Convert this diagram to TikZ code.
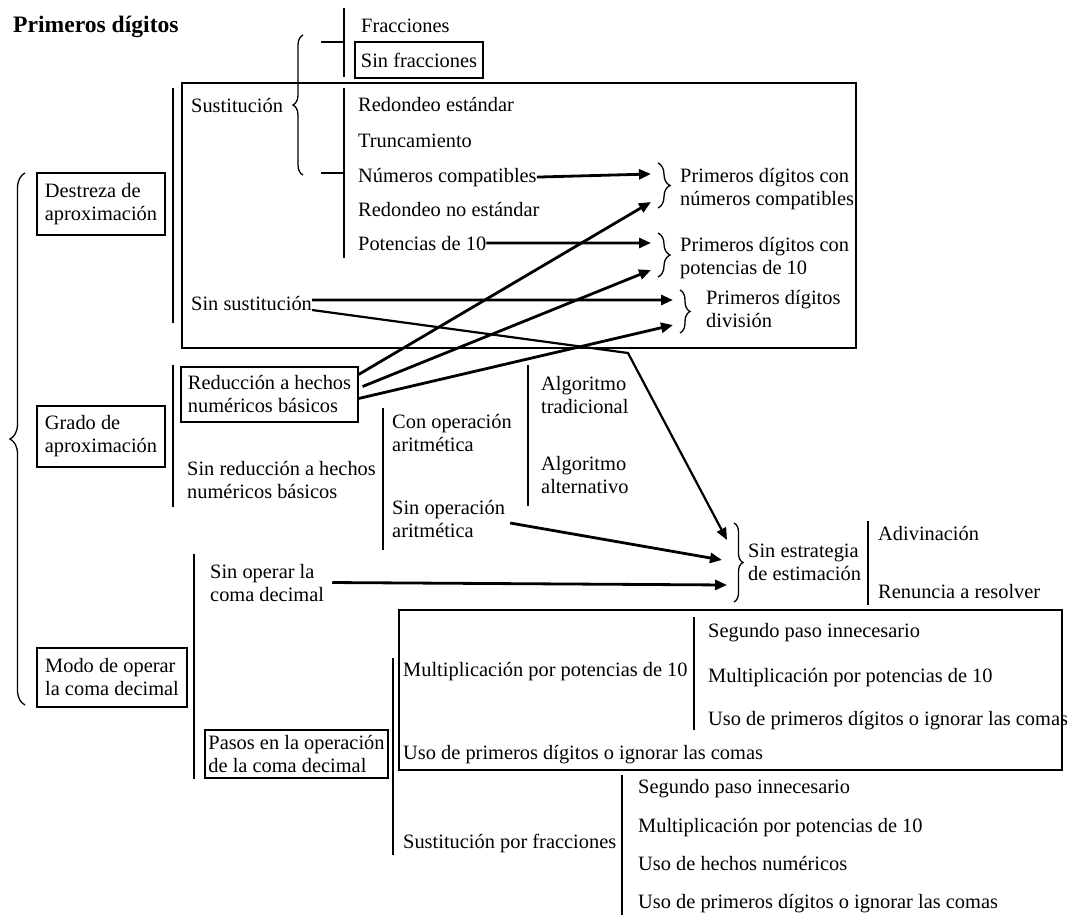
\documentclass[tikz,border=0pt]{standalone}
\usepackage{fontspec}
\setmainfont{Liberation Serif}
\usetikzlibrary{arrows.meta,decorations.pathreplacing}

\begin{document}
\begin{tikzpicture}[
  x=1pt, y=-1pt,
  every node/.style={font=\fontsize{20.4}{23}\selectfont, inner sep=0pt},
  item/.style={anchor=base west, align=left},
  box/.style={draw, line width=1.2pt, align=left},
  frame/.style={line width=1.2pt},
  vline/.style={line width=2.4pt},
  curly/.style={decorate, decoration={brace, amplitude=#1}, line width=1.3pt},
  arrow/.style={-{Triangle[length=12pt, width=10pt]}, line width=2.8pt}
]
\useasboundingbox (0,0) rectangle (1070,915);

\node[anchor=base west, font=\fontsize{23.6}{28}\selectfont\bfseries] (titulo) at (13,33) {Primeros dígitos};

% marcos grandes
\draw[frame] (182,83) rectangle (856,348);
\draw[frame] (399,610) rectangle (1062,770);

% cajas
\node[box, minimum width=128pt, minimum height=36pt] (sinfrac) at (419,60) {Sin fracciones};
\node[box, minimum width=128pt, minimum height=62pt] (destreza) at (101,204) {Destreza de\\aproximación};
\node[box, minimum width=128pt, minimum height=61pt] (grado) at (101,436.5) {Grado de\\aproximación};
\node[box, minimum width=150pt, minimum height=59pt] (modo) at (112,677.5) {Modo de operar\\la coma decimal};
\node[box, minimum width=177pt, minimum height=55pt] (reduccion) at (269.5,394.5) {Reducción a hechos\\numéricos básicos};
\node[box, minimum width=183pt, minimum height=48pt] (pasos) at (296.5,754) {Pasos en la operación\\de la coma decimal};

% textos (los de dos renglones van por la linea base del segundo)
\node[item] (frac) at (361,33) {Fracciones};
\node[item] (sust) at (191,113) {Sustitución};
\node[item] (redest) at (358,112) {Redondeo estándar};
\node[item] (trunc) at (358,147) {Truncamiento};
\node[item] (numcomp) at (358,182) {Números compatibles};
\node[item] (rednoest) at (358,216) {Redondeo no estándar};
\node[item] (pot) at (358,250) {Potencias de 10};
\node[item] (sinsust) at (191,310) {Sin sustitución};
\node[item] (pdnc) at (680,205) {Primeros dígitos con\\números compatibles};
\node[item] (pdp10) at (680,274) {Primeros dígitos con\\potencias de 10};
\node[item] (pddiv) at (706,327) {Primeros dígitos\\división};
\node[item] (sinred) at (187,498) {Sin reducción a hechos\\numéricos básicos};
\node[item] (conop) at (392,451) {Con operación\\aritmética};
\node[item] (sinop) at (392,537) {Sin operación\\aritmética};
\node[item] (algtrad) at (541,413) {Algoritmo\\tradicional};
\node[item] (algalt) at (541,493) {Algoritmo\\alternativo};
\node[item] (sinoperar) at (210,601) {Sin operar la\\coma decimal};
\node[item] (sinestr) at (748,580) {Sin estrategia\\de estimación};
\node[item] (adiv) at (878,540) {Adivinación};
\node[item] (renun) at (878,598) {Renuncia a resolver};
\node[item] (multpot) at (403,676) {Multiplicación por potencias de 10};
\node[item] (seg1) at (708,637) {Segundo paso innecesario};
\node[item] (mult1) at (708,682) {Multiplicación por potencias de 10};
\node[item] (uso1) at (708,725) {Uso de primeros dígitos o ignorar las comas};
\node[item] (uso2) at (403,759) {Uso de primeros dígitos o ignorar las comas};
\node[item] (sustfrac) at (403,848) {Sustitución por fracciones};
\node[item] (seg2) at (638,793) {Segundo paso innecesario};
\node[item] (mult2) at (638,832) {Multiplicación por potencias de 10};
\node[item] (hechos) at (638,870) {Uso de hechos numéricos};
\node[item] (uso3) at (638,908) {Uso de primeros dígitos o ignorar las comas};

% barras verticales
\draw[vline] (344,8) -- (344,77);
\draw[vline] (344,88) -- (344,258);
\draw[vline] (321,42) -- (344,42);
\draw[vline] (321,173) -- (344,173);
\draw[vline] (173,88) -- (173,323);
\draw[vline] (173,365) -- (173,507);
\draw[vline] (383,408) -- (383,550);
\draw[vline] (528,365) -- (528,506);
\draw[vline] (194,554) -- (194,779);
\draw[vline] (868,521) -- (868,605);
\draw[vline] (694,617) -- (694,730);
\draw[vline] (393,658) -- (393,855);
\draw[vline] (622,775) -- (622,915);

% llaves
\draw[curly=10pt] (303,175) -- (303,35);
\draw[curly=15pt] (25,705) -- (25,173);
\draw[curly=12pt] (658,163) -- (658,208);
\draw[curly=12pt] (658,233) -- (658,277);
\draw[curly=10pt] (680,290) -- (680,333);
\draw[curly=9pt] (734,523) -- (734,602);

% puntas de las flechas
\coordinate (tipA1) at (651,174);
\coordinate (tipA2) at (651,202);
\coordinate (tipB1) at (651,243);
\coordinate (tipB2) at (651,270);
\coordinate (tipC1) at (673,300);
\coordinate (tipC2) at (673,325);
\coordinate (codo) at (628,353);
\coordinate (tipD1) at (727,540);
\coordinate (tipD2) at (722,560);
\coordinate (tipD3) at (727,585);

\draw[arrow] (numcomp.east) -- (tipA1);
\draw[arrow] (pot.east) -- (tipB1);
\draw[arrow] ([yshift=3pt]sinsust.east) -- (tipC1);
\draw[arrow, line width=2.2pt] ([yshift=-7pt]sinsust.east) -- (codo) -- (tipD1);
\draw[arrow] ([yshift=20pt]reduccion.east) -- (tipA2);
\draw[arrow] ([xshift=4pt,yshift=8pt]reduccion.east) -- (tipB2);
\draw[arrow] ([yshift=-4pt]reduccion.east) -- (tipC2);
\draw[arrow] ([xshift=5pt,yshift=-4.5pt]sinop.east) -- (tipD2);
\draw[arrow] ([xshift=8pt]sinoperar.east) -- (tipD3);

\end{tikzpicture}
\end{document}
